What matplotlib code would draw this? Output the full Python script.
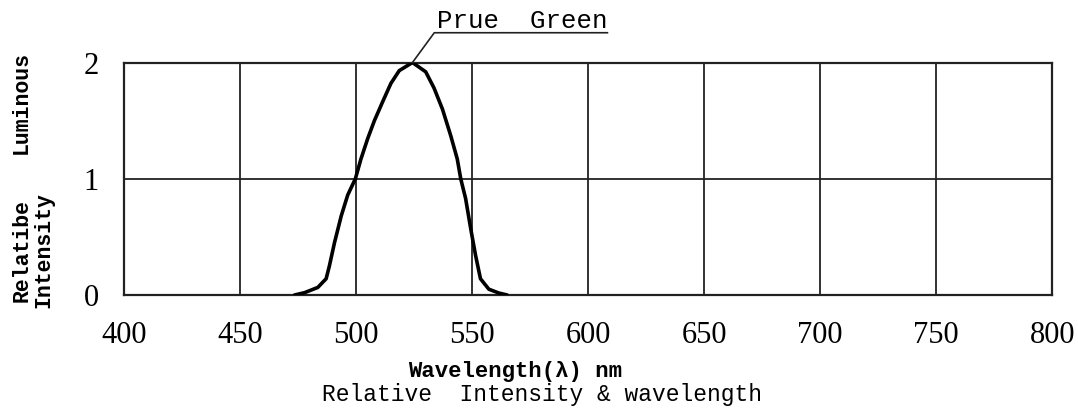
import matplotlib
matplotlib.use("Agg")
import matplotlib.pyplot as plt

# spectrum
wavelength = [473.5, 477.8, 483.5, 487.1, 488.5, 490.7, 493.6, 496.4, 499.7,
              502.1, 505.0, 507.9, 511.4, 515.0, 518.6, 524.3, 530.0, 533.6,
              537.2, 540.8, 543.6, 545.1, 547.2, 549.4, 551.5, 553.6, 557.2,
              561.5, 565.1]
intensity = [0.0, 0.02, 0.065, 0.14, 0.25, 0.45, 0.68, 0.86, 1.0,
             1.17, 1.345, 1.50, 1.66, 1.82, 1.93, 2.0, 1.92, 1.78,
             1.60, 1.37, 1.17, 1.0, 0.83, 0.57, 0.34, 0.14, 0.05,
             0.017, 0.0]

x_ticks = [400, 450, 500, 550, 600, 650, 700, 750, 800]
y_ticks = [0, 1, 2]
curve_name = "Prue  Green"

serif = ["Liberation Serif", "DejaVu Serif"]
mono = ["Liberation Mono", "DejaVu Sans Mono"]

fig = plt.figure(figsize=(10.78, 4.16), dpi=100)
ax = fig.add_axes([124 / 1078, 1 - 295 / 416, 928.3 / 1078, 232.5 / 416])

ax.plot(wavelength, intensity, color="black", lw=2.6, solid_joinstyle="round",
        solid_capstyle="round", zorder=3)

ax.set_xlim(400, 800)
ax.set_ylim(0, 2)
ax.set_xticks(x_ticks)
ax.set_yticks(y_ticks)
ax.set_xticklabels([str(v) for v in x_ticks], fontfamily=serif, fontsize=22)
ax.set_yticklabels([str(v) for v in y_ticks], fontfamily=serif, fontsize=22)
ax.tick_params(length=0, pad=18)
ax.tick_params(axis="x", pad=19)
ax.grid(True, color="#222222", lw=1.3)
for s in ax.spines.values():
    s.set_linewidth(1.6)
    s.set_color("#222222")

# leader line + underlined label
ax.plot([524.3, 533.7, 608.3], [2.0, 2.256, 2.256], color="#222222", lw=1.2, clip_on=False)
ax.text(535.0, 2.30, curve_name, fontfamily=mono, fontsize=18.5, ha="left", va="baseline")

# y label, two blocks
fig.text(21 / 1078, 1 - 103 / 416, "Luminous", rotation=90, fontfamily=mono,
         fontweight="bold", fontsize=15.5, ha="center", va="center")
fig.text(33 / 1078, 1 - 250 / 416, "Relatibe\nIntensity", rotation=90, fontfamily=mono,
         fontweight="bold", fontsize=15.5, ha="center", va="center", linespacing=1.0)

fig.text(515 / 1078, 1 - 372 / 416, "Wavelength(\u03bb) nm", fontfamily=mono,
         fontweight="bold", fontsize=16, ha="center", va="center")
fig.text(542 / 1078, 1 - 394 / 416, "Relative  Intensity & wavelength", fontfamily=mono,
         fontsize=16.5, ha="center", va="center")

fig.savefig("out.png", dpi=100)
